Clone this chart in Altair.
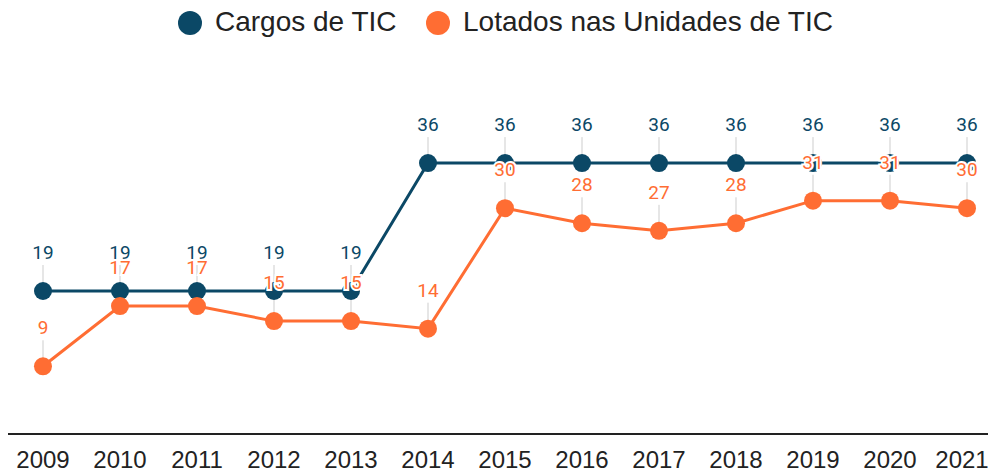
import altair as alt
import pandas as pd

years = [2009, 2010, 2011, 2012, 2013, 2014, 2015,
         2016, 2017, 2018, 2019, 2020, 2021]
cargos = [19, 19, 19, 19, 19, 36, 36, 36, 36, 36, 36, 36, 36]
lotados = [9, 17, 17, 15, 15, 14, 30, 28, 27, 28, 31, 31, 30]
series_names = ["Cargos de TIC", "Lotados nas Unidades de TIC"]
series_colors = ["#0B4866", "#FF6D33"]

rows = []
for name, vals in zip(series_names, [cargos, lotados]):
    for y, v in zip(years, vals):
        rows.append({"series": name, "year": y, "value": v})
df = pd.DataFrame(rows)
year_df = pd.DataFrame({"year": years, "zero": [0] * len(years)})

xscale = alt.Scale(domain=[2008.5455, 2021.2727], nice=False, zero=False)
xenc = alt.X("year:Q", scale=xscale, axis=None)
yscale = alt.Scale(domain=[0, 56.6], nice=False, zero=True)
yenc = alt.Y("value:Q", scale=yscale, axis=None)

color_lg = alt.Color(
    "series:N",
    scale=alt.Scale(domain=series_names, range=series_colors),
    legend=alt.Legend(title=None, orient="none", legendX=168, legendY=1, direction="horizontal",
                      labelFont="Liberation Sans", labelFontSize=28, labelColor="#222222",
                      labelLimit=0, symbolSize=576, symbolType="circle",
                      labelOffset=11, columnPadding=26, padding=0),
)

base = alt.Chart(df).encode(x=xenc, y=yenc)

axis_df = pd.DataFrame({"zero": [0]})
axis_line = alt.Chart(axis_df).mark_rule(color="#222222", strokeWidth=2).encode(
    y=alt.Y("zero:Q", scale=yscale, axis=None), x=alt.value(0), x2=alt.value(980)
)

# year labels under the baseline (last one nudged so it stays inside the page)
ybase = alt.Chart(year_df).encode(
    x=alt.X("year:Q", scale=xscale, axis=None),
    y=alt.Y("zero:Q", scale=yscale, axis=None),
    text=alt.Text("year:Q", format="d"),
)
year_main = ybase.transform_filter(alt.datum.year < 2021).mark_text(
    font="Liberation Sans", fontSize=24, color="#222222", baseline="middle", dy=27)
year_last = ybase.transform_filter(alt.datum.year == 2021).mark_text(
    font="Liberation Sans", fontSize=24, color="#222222", baseline="middle", dy=27, dx=-5)

# leader line reaches 3.45 data units (about 26 px) above each point
leaders = base.transform_calculate(top="datum.value + 3.45").mark_rule(
    color="#E6E6E6", strokeWidth=2).encode(y2="top:Q")

layers = [axis_line, year_main, year_last, leaders]
for name, col in zip(series_names, series_colors):
    sub = base.transform_filter(alt.datum.series == name)
    layers.append(sub.mark_line(strokeWidth=3, color=col))
points = base.mark_circle(size=324, opacity=1).encode(color=color_lg)
layers.append(points)

for name, col in zip(series_names, series_colors):
    sub = base.transform_filter(alt.datum.series == name)
    halo = sub.mark_text(font="Roboto", fontSize=19, baseline="alphabetic", dy=-32,
                         color="white", stroke="white", strokeWidth=4).encode(text="value:Q")
    txt = sub.mark_text(font="Roboto", fontSize=19, baseline="alphabetic", dy=-32,
                        color=col).encode(text="value:Q")
    layers += [halo, txt]

chart = alt.layer(*layers).properties(
    width=980, height=426,
    autosize=alt.AutoSizeParams(type="none"),
    padding={"left": 0, "top": 0, "right": 0, "bottom": 38},
).configure_view(stroke=None)

chart.save("out.html", embed_options={"renderer": "svg", "actions": False})
